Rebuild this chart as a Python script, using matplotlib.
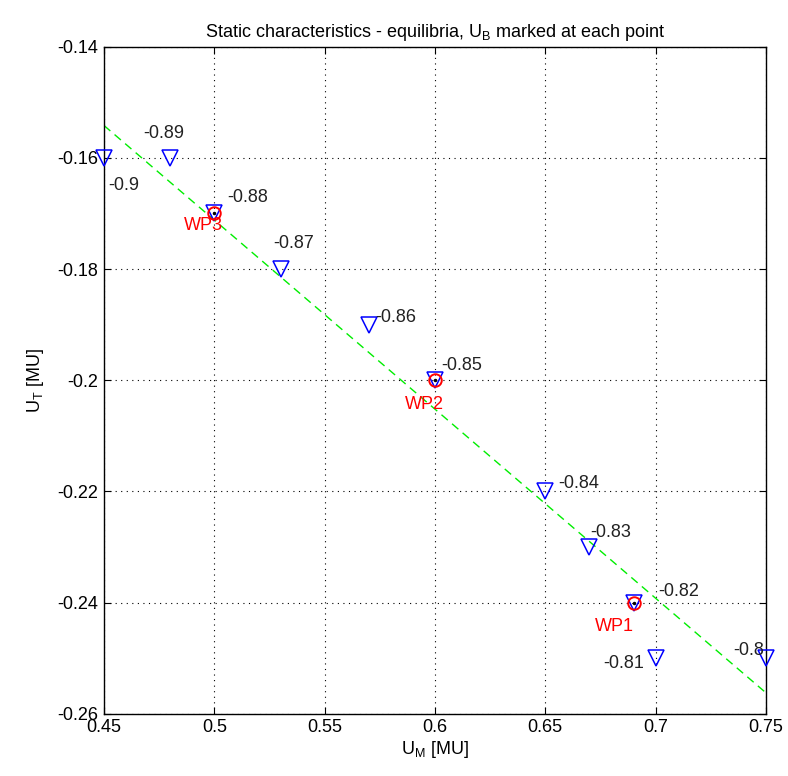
import numpy as np
import matplotlib
matplotlib.use('Agg')
import matplotlib.pyplot as plt

plt.rcParams['font.family'] = ['Liberation Sans Narrow', 'Liberation Sans', 'DejaVu Sans']

# equilibria: U_M, U_T, U_B
um = [0.45, 0.48, 0.50, 0.53, 0.57, 0.60, 0.65, 0.67, 0.69, 0.70, 0.75]
ut = [-0.16, -0.16, -0.17, -0.18, -0.19, -0.20, -0.22, -0.23, -0.24, -0.25, -0.25]
ub = [-0.9, -0.89, -0.88, -0.87, -0.86, -0.85, -0.84, -0.83, -0.82, -0.81, -0.8]
# label offsets (data units)
lab_dx = [0.002, -0.012, 0.006, -0.0035, 0.003, 0.003, 0.006, 0.0005, 0.011, -0.005, -0.015]
lab_dy = [-0.0049, 0.0043, 0.0029, 0.0045, 0.0013, 0.0027, 0.0014, 0.0027, 0.002, -0.0009, 0.0014]
lab_ha = ['left', 'left', 'left', 'left', 'left', 'left', 'left', 'left', 'left', 'right', 'left']

# working points
wp_name = ['WP1', 'WP2', 'WP3']
wp_um = [0.69, 0.60, 0.50]
wp_ut = [-0.24, -0.20, -0.17]
wp_dx = [-0.0085, -0.005, -0.005]
wp_dy = [-0.0043, -0.0043, -0.0022]

# linear fit line
fit_x = [0.45, 0.75]
fit_y = [-0.1542, -0.2562]

fig = plt.figure(figsize=(7.88, 7.76), dpi=100)
ax = fig.add_axes([0.132, 0.08, 0.84, 0.86])

ax.plot(fit_x, fit_y, '--', color='#00ee00', lw=1, dashes=(6, 4), zorder=2)
ax.plot(um, ut, 'v', mfc='none', mec='blue', ms=11, mew=1.1, zorder=3, clip_on=False)
ax.plot(wp_um, wp_ut, 'o', mfc='none', mec='red', ms=9, mew=1.4, zorder=4)
ax.plot(wp_um, wp_ut, '.', color='black', ms=3, zorder=5)

for x, y, b, dx, dy, ha in zip(um, ut, ub, lab_dx, lab_dy, lab_ha):
    ax.text(x + dx, y + dy, '%g' % b, ha=ha, va='center', fontsize=13, color='#222222')
for x, y, n, dx, dy in zip(wp_um, wp_ut, wp_name, wp_dx, wp_dy):
    ax.text(x + dx, y + dy, n, ha='center', va='center', fontsize=13, color='red')

ax.set_xlim(0.45, 0.75)
ax.set_ylim(-0.26, -0.14)
ax.set_xticks([0.45, 0.5, 0.55, 0.6, 0.65, 0.7, 0.75])
ax.set_xticklabels(['0.45', '0.5', '0.55', '0.6', '0.65', '0.7', '0.75'])
ax.set_yticks([-0.26, -0.24, -0.22, -0.2, -0.18, -0.16, -0.14])
ax.set_yticklabels(['-0.26', '-0.24', '-0.22', '-0.2', '-0.18', '-0.16', '-0.14'])
ax.tick_params(direction='in', labelsize=13, length=5, top=True, right=True, pad=4)
ax.grid(True, color='black', linestyle=(0, (1, 4)), lw=0.8)
for s in ax.spines.values():
    s.set_linewidth(1.0)

ax.set_xlabel('U$_\\mathregular{M}$ [MU]', fontsize=13, labelpad=2)
ax.set_ylabel('U$_\\mathregular{T}$ [MU]', fontsize=13, labelpad=8)
ax.set_title('Static characteristics - equilibria, U$_\\mathregular{B}$ marked at each point',
             fontsize=13, pad=7)

fig.savefig('out.png', dpi=100, facecolor='white')
